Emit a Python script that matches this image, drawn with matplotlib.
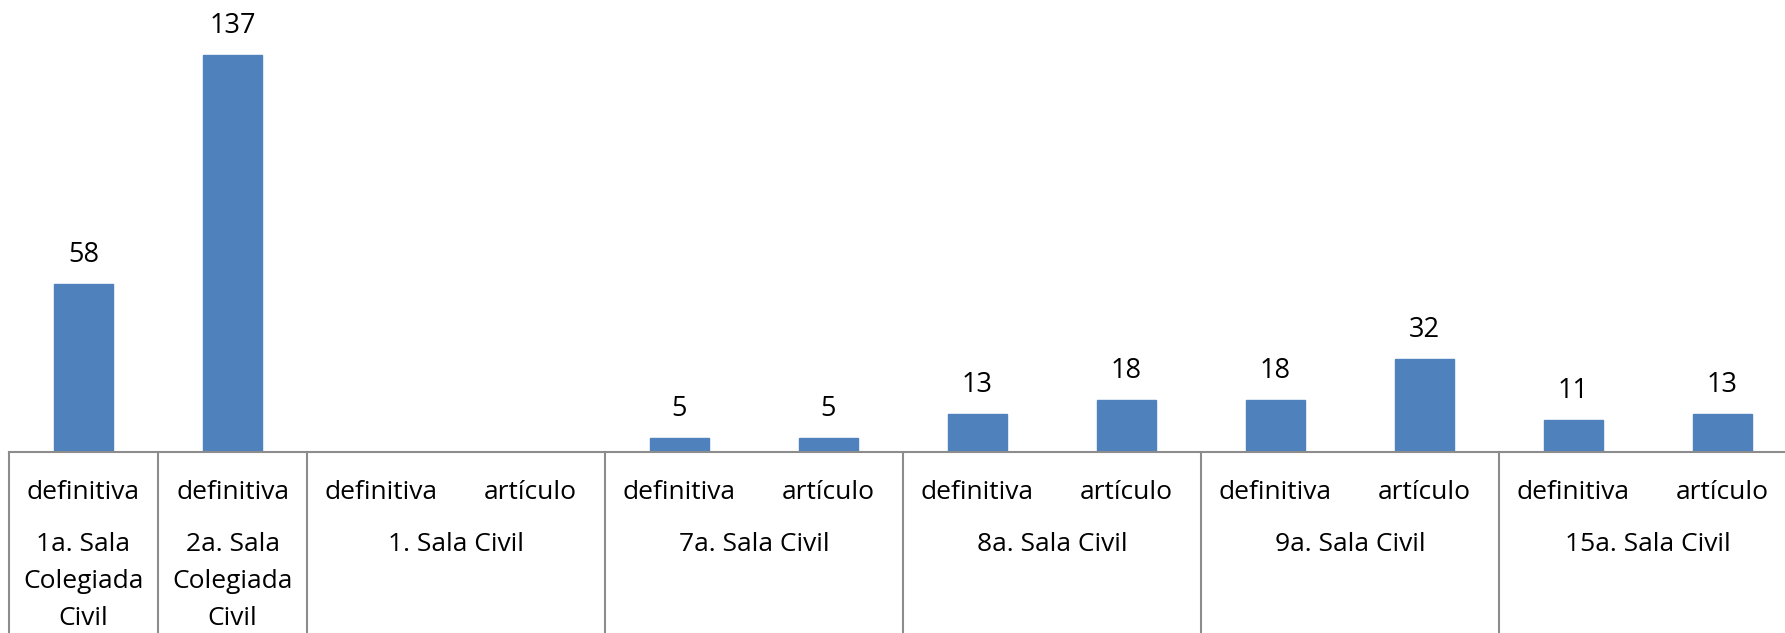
import numpy as np
import matplotlib.pyplot as plt
import matplotlib.transforms as mtransforms

# datos
grupos = ['1a. Sala\nColegiada\nCivil', '2a. Sala\nColegiada\nCivil', '1. Sala Civil',
          '7a. Sala Civil', '8a. Sala Civil', '9a. Sala Civil', '15a. Sala Civil']
tamanos = [1, 1, 2, 2, 2, 2, 2]
tipos = ['definitiva', 'definitiva', 'definitiva', 'artículo', 'definitiva', 'artículo',
         'definitiva', 'artículo', 'definitiva', 'artículo', 'definitiva', 'artículo']
valores = [58, 137, None, None, 5, 5, 13, 18, 18, 32, 11, 13]

plt.rcParams['font.family'] = ['Open Sans', 'DejaVu Sans']

W, H = 1785, 633
fig = plt.figure(figsize=(W / 100, H / 100), dpi=100)
eje_y = 452        # px desde arriba
slot = 149.0
izq = 9
ax = fig.add_axes([izq / W, (H - eje_y) / H, 12 * slot / W, eje_y / H])

x = np.arange(len(tipos))
alturas = [v if v is not None else 0 for v in valores]
escala = (eje_y - 55) / 137.0
ax.set_xlim(-0.5, len(tipos) - 0.5)
ax.set_ylim(0, eje_y / escala)

ax.bar(x, alturas, width=0.4, color='#4F81BD', edgecolor='#4F81BD', zorder=2)

for xi, v in zip(x, valores):
    if v is None:
        continue
    ax.annotate(str(v), (xi, v), xytext=(0, 29 * 0.72), textcoords='offset points',
                ha='center', va='center', fontsize=19.5, color='black')

for s in ['top', 'right', 'left']:
    ax.spines[s].set_visible(False)
ax.spines['bottom'].set_color('#8C8C8C')
ax.spines['bottom'].set_linewidth(1.5)
ax.set_xticks([])
ax.set_yticks([])

trans = mtransforms.blended_transform_factory(ax.transData, ax.transAxes)
fondo = -(H - eje_y) / eje_y

# etiquetas de tipo
for xi, t in zip(x, tipos):
    tr = mtransforms.offset_copy(trans, fig, x=0, y=-47, units='dots')
    ax.text(xi, 0, t, transform=tr, ha='center', va='baseline', fontsize=19, clip_on=False)

# lineas divisorias y nombres de grupo
inicio = -0.5
ax.plot([inicio, inicio], [0, fondo], transform=trans, color='#8C8C8C', lw=1.5, clip_on=False)
for g, n in zip(grupos, tamanos):
    fin = inicio + n
    ax.plot([fin, fin], [0, fondo], transform=trans, color='#8C8C8C', lw=1.5, clip_on=False)
    centro = (inicio + fin) / 2
    for k, linea in enumerate(g.split('\n')):
        tr = mtransforms.offset_copy(trans, fig, x=0, y=-(99 + 37 * k), units='dots')
        ax.text(centro, 0, linea, transform=tr, ha='center', va='baseline', fontsize=19, clip_on=False)
    inicio = fin

fig.savefig('out.png', dpi=100)
